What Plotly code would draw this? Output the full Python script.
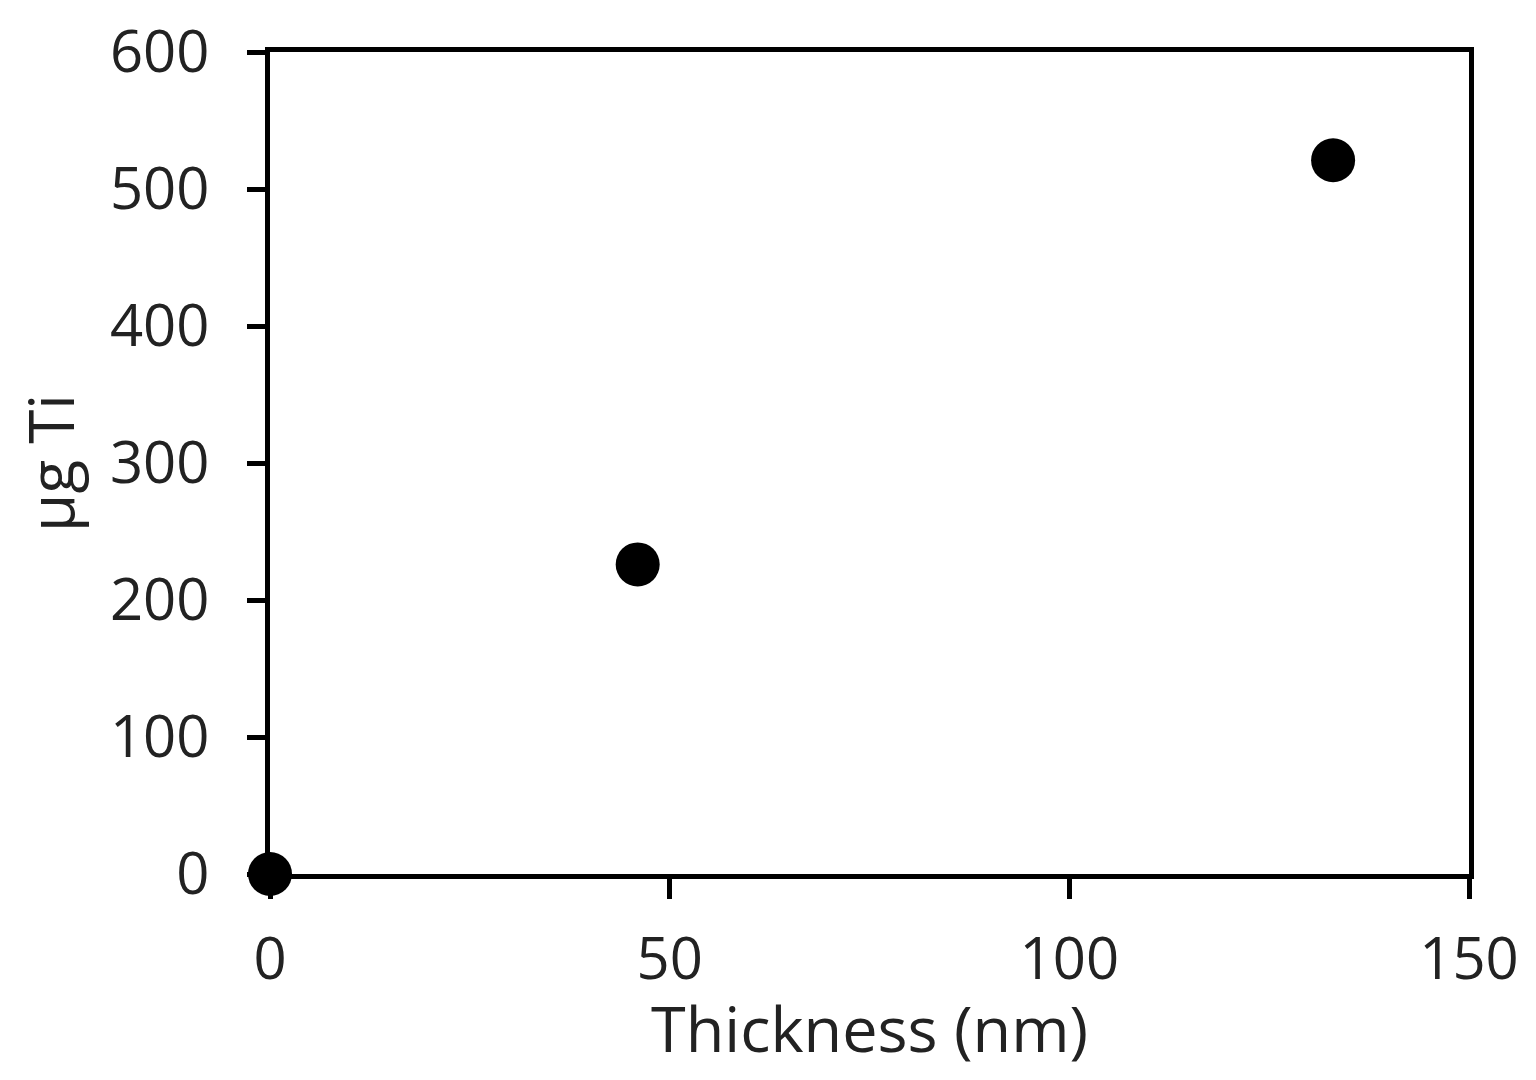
import plotly.graph_objects as go

# Data
thickness_nm = [0, 46, 133]
ug_ti = [0, 226, 521]

x_ticks = [0, 50, 100, 150]
y_ticks = [0, 100, 200, 300, 400, 500, 600]

FONT = "Open Sans"

fig = go.Figure()

fig.add_trace(go.Scatter(
    x=thickness_nm,
    y=ug_ti,
    mode='markers',
    marker=dict(size=44, color='black'),
    cliponaxis=False,
    showlegend=False
))

fig.update_layout(
    width=1536,
    height=1080,
    paper_bgcolor='white',
    plot_bgcolor='white',
    margin=dict(l=262, r=75, t=44, b=214),
    font=dict(family=FONT, size=58, color='#222222'),
    xaxis=dict(
        range=[0, 150],
        tickvals=x_ticks,
        showgrid=False,
        zeroline=False,
        showline=True,
        linecolor='black',
        linewidth=5,
        mirror=True,
        ticks='outside',
        ticklen=20,
        tickwidth=5,
        tickcolor='black',
        ticklabelstandoff=10,
        automargin=False,
    ),
    yaxis=dict(
        range=[0, 600],
        tickvals=y_ticks,
        showgrid=False,
        zeroline=False,
        showline=True,
        linecolor='black',
        linewidth=5,
        mirror=True,
        ticks='outside',
        ticklen=18,
        tickwidth=5,
        tickcolor='black',
        ticklabelstandoff=26,
        automargin=False,
        title=dict(text='μg Ti', standoff=42, font=dict(size=62)),
    ),
)

# x-axis title placed as an annotation so it can sit closer to the tick labels
fig.add_annotation(
    text='Thickness (nm)',
    xref='paper', yref='paper',
    x=0.5, y=0,
    xanchor='center', yanchor='middle',
    yshift=-153,
    showarrow=False,
    font=dict(family=FONT, size=63, color='#222222'),
)

fig.write_html("out.html")
